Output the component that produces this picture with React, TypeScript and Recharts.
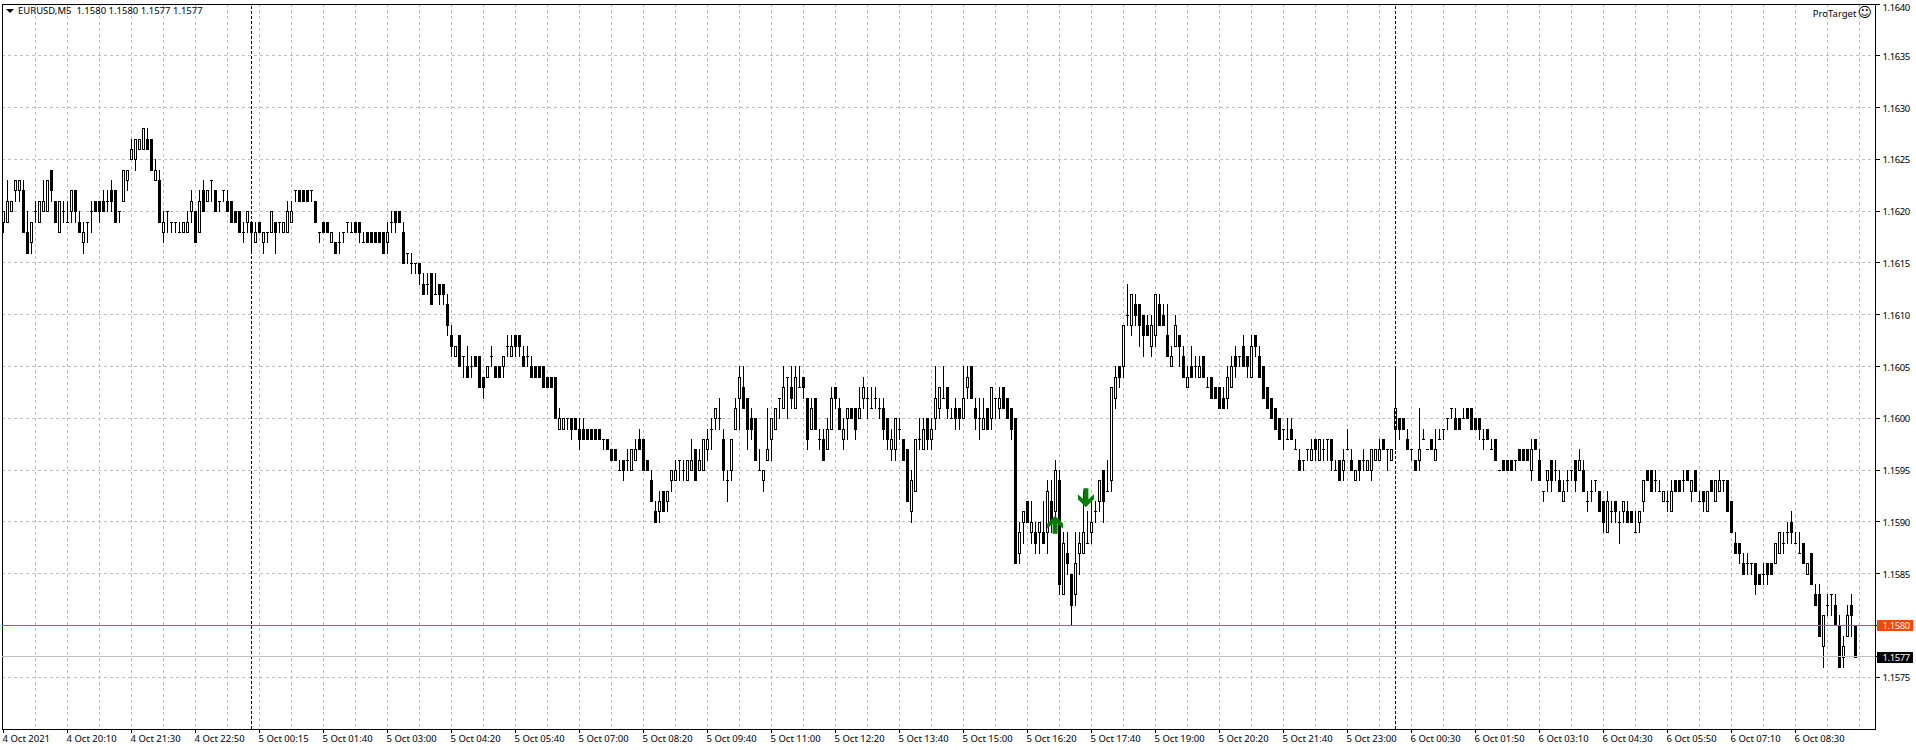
import { Bar, CartesianGrid, ComposedChart, ReferenceDot, ReferenceLine, XAxis, YAxis } from 'recharts'

// EURUSD M5, prices in points: 1620 means 1.1620. Eight candles per line (one grid cell)
const opens = [
  1619,1619,1620,1622,1622,1622,1618,1617,
  1620,1619,1620,1620,1624,1621,1618,1620,
  1619,1620,1622,1619,1617,1619,1620,1621,
  1621,1621,1621,1622,1622,1620,1621,1623,
  1625,1625,1626,1626,1627,1627,1623,1623,
  1618,1620,1619,1619,1618,1618,1618,1620,
  1620,1618,1622,1621,1623,1622,1621,1622,
  1621,1621,1620,1620,1618,1619,1619,1617,
  1619,1617,1618,1618,1619,1619,1618,1618,
  1619,1622,1622,1622,1622,1622,1621,1618,
  1619,1619,1617,1617,1617,1618,1619,1618,
  1619,1619,1617,1618,1618,1618,1618,1618,
  1617,1619,1620,1620,1618,1616,1615,1615,
  1615,1613,1613,1614,1612,1613,1613,1611,
  1608,1606,1608,1606,1605,1605,1606,1606,
  1604,1604,1606,1605,1605,1605,1607,1606,
  1608,1608,1606,1606,1605,1605,1605,1605,
  1604,1604,1604,1599,1599,1600,1600,1600,
  1599,1599,1599,1599,1599,1599,1598,1598,
  1597,1597,1595,1596,1596,1595,1596,1598,
  1598,1596,1594,1591,1591,1593,1592,1594,
  1594,1596,1595,1594,1595,1597,1595,1595,
  1597,1599,1600,1600,1598,1594,1595,1599,
  1602,1603,1602,1600,1600,1595,1594,1596,
  1598,1599,1602,1601,1604,1603,1601,1603,
  1604,1602,1599,1602,1598,1598,1597,1599,
  1603,1601,1598,1600,1601,1601,1600,1602,
  1602,1601,1602,1601,1601,1600,1597,1597,
  1599,1598,1597,1591,1593,1598,1597,1600,
  1598,1600,1601,1602,1603,1600,1601,1601,
  1600,1603,1605,1601,1600,1599,1601,1600,
  1602,1601,1603,1602,1601,1600,1587,1590,
  1592,1589,1589,1589,1589,1589,1592,1591,
  1594,1583,1587,1585,1583,1587,1587,1588,
  1589,1591,1592,1595,1593,1594,1602,1605,
  1605,1610,1609,1611,1611,1610,1609,1607,
  1608,1611,1610,1608,1605,1607,1608,1606,
  1603,1605,1605,1604,1606,1603,1604,1603,
  1603,1602,1602,1603,1606,1606,1607,1606,
  1604,1608,1606,1605,1603,1602,1601,1600,
  1599,1598,1599,1597,1596,1596,1597,1596,
  1598,1596,1597,1598,1598,1595,1596,1595,
  1597,1596,1594,1596,1596,1595,1595,1596,
  1596,1598,1597,1596,1599,1600,1600,1598,
  1597,1596,1596,1598,1597,1598,1596,1598,
  1599,1600,1601,1600,1600,1600,1601,1601,
  1600,1600,1598,1599,1597,1598,1595,1596,
  1596,1596,1596,1597,1597,1597,1595,1598,
  1596,1593,1594,1596,1595,1594,1592,1594,
  1595,1596,1595,1595,1592,1593,1594,1593,
  1592,1589,1591,1592,1590,1591,1591,1591,
  1589,1590,1592,1595,1595,1594,1593,1592,
  1592,1591,1594,1594,1594,1595,1593,1595,
  1592,1593,1591,1594,1592,1593,1594,1594,
  1592,1588,1588,1586,1586,1586,1586,1585,
  1585,1586,1586,1586,1587,1588,1589,1590,
  1588,1587,1588,1585,1587,1583,1583,1578,
  1582,1583,1582,1580,1577,1579,1582,1580,
]
const closes = [
  1620,1621,1621,1623,1623,1618,1616,1619,
  1620,1621,1621,1623,1622,1619,1621,1620,
  1619,1622,1620,1618,1618,1619,1620,1620,
  1620,1620,1621,1621,1619,1620,1624,1624,
  1626,1627,1627,1628,1626,1624,1624,1619,
  1619,1620,1619,1619,1618,1619,1619,1621,
  1617,1621,1620,1622,1623,1620,1621,1622,
  1620,1619,1619,1618,1618,1620,1618,1618,
  1618,1618,1618,1620,1618,1619,1619,1620,
  1620,1622,1621,1621,1621,1622,1619,1618,
  1618,1618,1618,1616,1617,1618,1619,1618,
  1618,1618,1617,1617,1617,1617,1617,1616,
  1618,1619,1619,1619,1615,1616,1615,1615,
  1614,1612,1613,1611,1612,1612,1612,1609,
  1607,1607,1605,1606,1604,1605,1605,1603,
  1603,1605,1606,1604,1604,1606,1607,1607,
  1607,1607,1605,1606,1604,1604,1604,1603,
  1603,1603,1600,1600,1600,1600,1599,1599,
  1598,1598,1598,1598,1598,1598,1598,1597,
  1596,1596,1595,1595,1596,1597,1597,1597,
  1595,1595,1592,1590,1592,1591,1593,1595,
  1595,1596,1595,1596,1596,1594,1596,1598,
  1598,1599,1601,1600,1595,1594,1598,1601,
  1604,1601,1599,1599,1596,1595,1595,1597,
  1600,1601,1602,1603,1604,1602,1604,1603,
  1603,1598,1601,1599,1598,1596,1599,1602,
  1602,1599,1599,1601,1600,1599,1601,1603,
  1602,1601,1602,1601,1599,1598,1598,1600,
  1599,1596,1592,1594,1598,1598,1599,1598,
  1599,1602,1603,1602,1601,1600,1600,1600,
  1602,1604,1602,1600,1600,1600,1599,1603,
  1602,1602,1601,1600,1599,1586,1589,1591,
  1590,1590,1588,1590,1588,1593,1590,1595,
  1584,1588,1586,1582,1586,1588,1589,1588,
  1590,1591,1594,1592,1593,1603,1604,1604,
  1609,1610,1612,1610,1609,1608,1608,1609,
  1612,1609,1609,1606,1606,1609,1607,1604,
  1604,1604,1605,1605,1604,1603,1602,1602,
  1601,1601,1604,1605,1605,1606,1605,1605,
  1607,1607,1604,1602,1601,1600,1599,1598,
  1599,1598,1598,1597,1595,1596,1597,1597,
  1597,1598,1597,1598,1596,1595,1594,1596,
  1597,1595,1595,1595,1596,1596,1597,1597,
  1597,1597,1597,1597,1601,1599,1599,1597,
  1597,1595,1597,1598,1597,1597,1597,1598,
  1599,1600,1601,1599,1599,1600,1600,1599,
  1599,1599,1598,1598,1597,1596,1595,1595,
  1595,1595,1596,1596,1596,1596,1597,1597,
  1594,1593,1595,1594,1595,1593,1593,1594,
  1595,1594,1596,1593,1592,1593,1594,1591,
  1590,1592,1591,1591,1590,1592,1590,1590,
  1589,1591,1594,1594,1593,1594,1593,1593,
  1592,1593,1593,1593,1594,1594,1594,1593,
  1592,1592,1593,1593,1594,1594,1594,1591,
  1589,1587,1587,1585,1586,1586,1584,1584,
  1585,1585,1585,1588,1589,1588,1589,1589,
  1588,1587,1586,1586,1584,1582,1579,1581,
  1582,1583,1580,1576,1578,1581,1581,1577,
]
const highs = [
  1620,1623,1621,1623,1623,1623,1620,1619,
  1621,1621,1623,1623,1624,1621,1621,1621,
  1621,1622,1622,1620,1619,1619,1621,1621,
  1621,1622,1622,1623,1622,1620,1624,1624,
  1627,1627,1627,1628,1628,1627,1625,1624,
  1620,1620,1619,1619,1619,1619,1620,1622,
  1620,1622,1623,1622,1623,1622,1621,1622,
  1622,1621,1620,1620,1619,1620,1619,1619,
  1619,1618,1618,1620,1619,1619,1619,1621,
  1621,1622,1622,1622,1622,1622,1621,1618,
  1619,1619,1618,1617,1618,1618,1619,1619,
  1619,1619,1618,1618,1618,1618,1618,1618,
  1619,1620,1620,1620,1619,1616,1616,1615,
  1615,1614,1614,1614,1614,1613,1613,1612,
  1609,1607,1608,1606,1607,1606,1606,1606,
  1604,1605,1607,1605,1605,1606,1608,1608,
  1608,1608,1607,1607,1606,1605,1605,1605,
  1604,1604,1604,1601,1600,1600,1600,1600,
  1600,1600,1599,1599,1599,1599,1598,1598,
  1597,1597,1596,1596,1597,1597,1598,1599,
  1598,1596,1595,1592,1593,1593,1593,1595,
  1596,1596,1596,1596,1598,1597,1597,1598,
  1599,1600,1601,1602,1599,1595,1598,1602,
  1605,1605,1602,1601,1600,1597,1595,1601,
  1600,1601,1602,1605,1604,1605,1605,1605,
  1604,1602,1602,1602,1599,1599,1600,1603,
  1603,1602,1600,1601,1601,1601,1603,1604,
  1603,1603,1603,1602,1602,1600,1599,1600,
  1600,1598,1597,1595,1598,1600,1600,1600,
  1600,1605,1603,1605,1603,1601,1602,1601,
  1605,1605,1605,1602,1602,1602,1601,1603,
  1602,1603,1603,1602,1601,1600,1590,1591,
  1592,1592,1590,1590,1592,1594,1594,1596,
  1595,1589,1589,1585,1589,1589,1593,1591,
  1592,1592,1594,1595,1596,1603,1605,1605,
  1609,1613,1612,1612,1611,1610,1610,1610,
  1612,1612,1611,1611,1607,1610,1608,1607,
  1605,1607,1606,1606,1606,1604,1604,1603,
  1603,1603,1605,1606,1607,1606,1608,1606,
  1608,1608,1607,1605,1603,1602,1601,1600,
  1599,1600,1600,1598,1597,1596,1597,1598,
  1598,1598,1598,1598,1598,1596,1596,1597,
  1599,1597,1595,1596,1597,1596,1597,1597,
  1598,1598,1597,1597,1605,1600,1600,1599,
  1597,1596,1601,1599,1597,1598,1599,1599,
  1599,1600,1601,1601,1600,1601,1601,1601,
  1600,1600,1599,1599,1598,1598,1595,1596,
  1596,1596,1596,1597,1597,1597,1598,1598,
  1597,1593,1595,1596,1596,1595,1594,1595,
  1595,1596,1597,1596,1593,1594,1594,1593,
  1592,1593,1592,1592,1591,1592,1592,1591,
  1591,1591,1594,1595,1595,1595,1594,1593,
  1593,1594,1594,1594,1595,1595,1594,1595,
  1593,1593,1593,1594,1594,1595,1594,1594,
  1592,1589,1588,1587,1587,1586,1586,1585,
  1586,1586,1586,1588,1589,1589,1590,1591,
  1589,1589,1588,1586,1587,1584,1584,1581,
  1583,1583,1583,1581,1579,1582,1583,1580,
]
const lows = [
  1618,1619,1620,1621,1621,1618,1616,1616,
  1619,1619,1620,1620,1621,1619,1618,1619,
  1619,1619,1619,1618,1616,1617,1618,1620,
  1619,1620,1620,1620,1619,1619,1621,1622,
  1625,1624,1626,1626,1626,1624,1623,1619,
  1617,1618,1618,1618,1618,1618,1618,1619,
  1617,1618,1620,1621,1621,1620,1620,1621,
  1620,1619,1619,1618,1617,1618,1616,1617,
  1618,1616,1617,1618,1616,1618,1618,1618,
  1619,1621,1621,1621,1621,1621,1619,1617,
  1618,1618,1617,1616,1616,1617,1618,1618,
  1618,1617,1617,1617,1617,1617,1617,1616,
  1616,1618,1618,1619,1615,1615,1614,1614,
  1613,1612,1612,1611,1612,1611,1611,1608,
  1606,1606,1605,1604,1604,1604,1605,1603,
  1602,1604,1605,1604,1604,1604,1606,1606,
  1606,1606,1605,1605,1604,1604,1604,1603,
  1603,1603,1600,1599,1599,1599,1598,1599,
  1597,1598,1598,1598,1598,1598,1597,1597,
  1596,1596,1595,1594,1595,1595,1596,1597,
  1595,1595,1592,1590,1590,1591,1591,1593,
  1594,1594,1594,1594,1595,1594,1595,1595,
  1596,1597,1599,1599,1594,1592,1594,1599,
  1599,1601,1597,1598,1596,1595,1593,1596,
  1596,1599,1600,1601,1600,1601,1601,1603,
  1602,1597,1599,1599,1597,1596,1597,1599,
  1601,1599,1597,1598,1600,1598,1600,1601,
  1600,1601,1601,1600,1598,1597,1596,1596,
  1598,1596,1592,1590,1593,1597,1597,1597,
  1597,1599,1600,1602,1600,1600,1599,1599,
  1600,1602,1602,1599,1598,1599,1599,1599,
  1600,1600,1601,1600,1598,1586,1586,1588,
  1590,1588,1587,1587,1588,1587,1589,1589,
  1583,1583,1585,1580,1582,1585,1587,1588,
  1588,1590,1591,1590,1593,1593,1601,1603,
  1604,1609,1608,1609,1607,1606,1608,1606,
  1607,1609,1609,1606,1605,1607,1605,1604,
  1603,1604,1604,1604,1604,1603,1602,1602,
  1601,1601,1601,1603,1604,1605,1605,1604,
  1604,1606,1604,1602,1601,1600,1599,1598,
  1597,1598,1598,1597,1595,1595,1596,1596,
  1596,1596,1596,1596,1595,1595,1594,1594,
  1597,1595,1594,1594,1595,1595,1594,1596,
  1596,1597,1595,1596,1597,1598,1599,1597,
  1596,1595,1595,1598,1597,1597,1596,1598,
  1598,1599,1600,1599,1599,1600,1600,1599,
  1599,1598,1597,1598,1597,1596,1595,1595,
  1595,1595,1595,1596,1596,1596,1594,1597,
  1594,1592,1593,1593,1594,1593,1592,1593,
  1594,1593,1595,1593,1591,1592,1593,1591,
  1589,1589,1590,1590,1588,1590,1590,1590,
  1589,1589,1591,1594,1593,1593,1593,1592,
  1591,1591,1593,1593,1593,1594,1592,1593,
  1592,1591,1591,1593,1592,1593,1593,1591,
  1589,1587,1586,1585,1585,1585,1583,1584,
  1584,1584,1585,1586,1587,1587,1588,1588,
  1588,1587,1586,1585,1584,1582,1579,1576,
  1581,1581,1580,1576,1576,1579,1579,1577,
]

const timeLabels = [
  '4 Oct 2021', '4 Oct 20:10', '4 Oct 21:30', '4 Oct 22:50', '5 Oct 00:15', '5 Oct 01:40',
  '5 Oct 03:00', '5 Oct 04:20', '5 Oct 05:40', '5 Oct 07:00', '5 Oct 08:20', '5 Oct 09:40',
  '5 Oct 11:00', '5 Oct 12:20', '5 Oct 13:40', '5 Oct 15:00', '5 Oct 16:20', '5 Oct 17:40',
  '5 Oct 19:00', '5 Oct 20:20', '5 Oct 21:40', '5 Oct 23:00', '6 Oct 00:30', '6 Oct 01:50',
  '6 Oct 03:10', '6 Oct 04:30', '6 Oct 05:50', '6 Oct 07:10', '6 Oct 08:30',
]
const bidPrice = 1.158
const lastPrice = 1.1577
const priceTicks = [
  1.1575, lastPrice, bidPrice, 1.1585, 1.159, 1.1595, 1.16, 1.1605, 1.161, 1.1615, 1.162, 1.1625, 1.163, 1.1635, 1.164,
]
const daySeparators = [62, 348]
const buyArrow = { bar: 262.9, price: 1.15906 }
const sellArrow = { bar: 270.6, price: 1.15914 }

const price = (pts: number) => 1 + pts / 10000
const data = opens.map((o, i) => ({
  bar: i,
  open: price(o),
  close: price(closes[i]),
  high: price(highs[i]),
  low: price(lows[i]),
  range: [price(lows[i]), price(highs[i])],
}))

// every 16th bar carries a time label, every 8th a grid line
const labelBars = timeLabels.map((_, i) => i * 16)
const gridBars = Array.from({ length: 58 }, (_, i) => (i + 1) * 8)

const FONT = '"Noto Sans", sans-serif'

function Candle(props: any) {
  const { x, y, width, height, payload } = props
  const { open, close, high, low } = payload
  const cx = Math.floor(x + width / 2) + 0.5
  const span = high - low
  const at = (p: number) => (span > 0 ? Math.round(y + ((high - p) / span) * height) : Math.round(y)) + 0.5
  const top = at(Math.max(open, close))
  const bottom = at(Math.min(open, close))
  let body
  if (top === bottom) {
    body = <line x1={cx - 1.5} x2={cx + 1.5} y1={top} y2={top} stroke="#000" />
  } else if (close > open) {
    body = <rect x={cx - 1} y={top} width={2} height={bottom - top} fill="#fff" stroke="#000" />
  } else {
    body = <rect x={cx - 1.5} y={top - 0.5} width={3} height={bottom - top + 1} fill="#000" />
  }
  return (
    <g>
      <line x1={cx} x2={cx} y1={at(high) - 0.5} y2={at(low) + 0.5} stroke="#000" />
      {body}
    </g>
  )
}

function TimeTick({ x, y, payload }: any) {
  return (
    <text x={x - 1} y={y + 7} fontSize={9.5} fontFamily={FONT} fill="#000">
      {timeLabels[payload.value / 16]}
    </text>
  )
}

// the bid and last prices sit on the axis as coloured tags
function PriceTick({ x, y, payload }: any) {
  const v = payload.value
  const tag = v === bidPrice ? '#ff4500' : v === lastPrice ? '#000' : null
  return (
    <g>
      {tag && <rect x={x - 4.5} y={Math.round(y) - 5} width={36} height={11} fill={tag} />}
      <text
        x={x + 1}
        y={Math.max(y + 4, 11)}
        fontSize={9.5}
        letterSpacing={-0.4}
        fontFamily={FONT}
        fill={tag ? '#fff' : '#000'}
      >
        {v.toFixed(4)}
      </text>
    </g>
  )
}

function UpArrow({ cx, cy }: any) {
  return (
    <path
      transform={`translate(${cx},${cy})`}
      d="M0 0L8 8V13L2.5 8V18H-2.5V8L-8 13V8Z"
      fill="#008000"
      shapeRendering="geometricPrecision"
    />
  )
}

function DownArrow({ cx, cy }: any) {
  return (
    <path
      transform={`translate(${cx},${cy})`}
      d="M0 0L8 -8V-13L2.5 -8V-19H-2.5V-8L-8 -13V-8Z"
      fill="#008000"
      shapeRendering="geometricPrecision"
    />
  )
}

export default function App() {
  return (
    <div
      style={{
        position: 'absolute',
        left: 0,
        top: 0,
        width: 1916,
        height: 750,
        background: '#fff',
        shapeRendering: 'crispEdges',
      }}
    >
      <ComposedChart
        width={1916}
        height={750}
        data={data}
        margin={{ top: 4, right: 0, bottom: 0, left: 1.5 }}
      >
        <CartesianGrid stroke="#c0c0c0" strokeDasharray="3 3" verticalValues={gridBars} />
        <XAxis
          dataKey="bar"
          type="number"
          domain={[-0.5, 468]}
          ticks={labelBars}
          interval={0}
          height={21}
          tick={<TimeTick />}
          tickSize={4}
          axisLine={{ stroke: '#000' }}
          tickLine={{ stroke: '#000' }}
          allowDataOverflow
        />
        <YAxis
          orientation="right"
          domain={[1.157, 1.164]}
          ticks={priceTicks}
          interval={0}
          width={40.5}
          tick={<PriceTick />}
          tickSize={4}
          axisLine={{ stroke: '#000' }}
          tickLine={{ stroke: '#000' }}
          allowDataOverflow
        />
        <ReferenceLine y={1.164} stroke="#000" />
        <ReferenceLine x={-0.25} stroke="#000" />
        {daySeparators.map((b) => (
          <ReferenceLine key={b} x={b} stroke="#000" strokeDasharray="3 2" />
        ))}
        <ReferenceLine y={lastPrice} stroke="#c0c0c0" />
        <Bar dataKey="range" barSize={3} shape={<Candle />} isAnimationActive={false} />
        <ReferenceLine y={bidPrice} stroke="#ff4500" />
        <ReferenceDot x={buyArrow.bar} y={buyArrow.price} shape={<UpArrow />} />
        <ReferenceDot x={sellArrow.bar} y={sellArrow.price} shape={<DownArrow />} />
      </ComposedChart>
      <div
        style={{
          position: 'absolute',
          left: 18,
          top: 4,
          fontFamily: FONT,
          fontSize: 9.5,
          lineHeight: '14px',
          whiteSpace: 'pre',
          color: '#000',
        }}
      >
        EURUSD,M5  1.1580 1.1580 1.1577 1.1577
      </div>
      <div
        style={{
          position: 'absolute',
          left: 6,
          top: 9,
          width: 0,
          height: 0,
          borderLeft: '4px solid transparent',
          borderRight: '4px solid transparent',
          borderTop: '4px solid #000',
        }}
      />
      <div
        style={{
          position: 'absolute',
          right: 1916 - 1872,
          top: 4,
          fontFamily: FONT,
          fontSize: 9.5,
          lineHeight: '16px',
          whiteSpace: 'pre',
          color: '#000',
        }}
      >
        ProTarget<span style={{ fontFamily: '"DejaVu Sans"', fontSize: 14, marginLeft: 1 }}>☺</span>
      </div>
    </div>
  )
}
